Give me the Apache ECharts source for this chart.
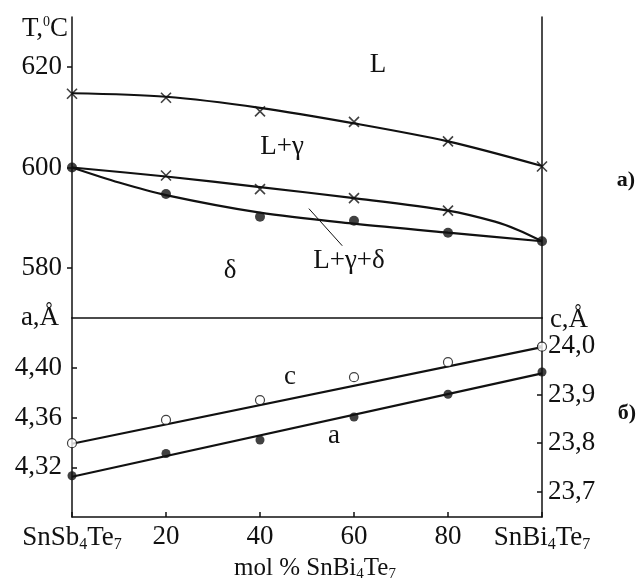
<!DOCTYPE html>
<html>
<head>
<meta charset="utf-8">
<script src="https://cdn.jsdelivr.net/npm/echarts@6/dist/echarts.min.js"></script>
<style>html,body{margin:0;background:#fff}#chart{width:640px;height:583px}</style>
</head>
<body>
<div id="chart"></div>
<script>
// x: mol % SnBi4Te7
const xPct = [0, 20, 40, 60, 80, 100]

// top panel, T (°C)
const liquidusCross = [614.7, 613.9, 611.2, 609.1, 605.2, 600.2]
const liquidusCurve = [614.8, 614.1, 611.9, 608.8, 605.2, 600.3]
const midCurveX = [0, 20, 40, 60, 80, 90, 95, 100]
const midCurve = [600, 598.2, 596.1, 593.9, 591.4, 589.2, 587.5, 585.3]
const midCrossX = [20, 40, 60, 80]
const midCross = [598.4, 595.7, 593.9, 591.4]
const solCurveX = [0, 10, 20, 40, 60, 80, 100]
const solCurve = [600, 597.0, 594.5, 591.0, 588.8, 587.0, 585.3]
const solDots = [600, 594.7, 590.2, 589.4, 587.0, 585.3]
const leaderX = [50.4, 57.5]
const leaderT = [591.8, 584.4]
const tTicks = [580, 600, 620]

// bottom panel, lattice parameters (Å)
const aDots = [4.3132, 4.3311, 4.3419, 4.3604, 4.3787, 4.3966]
const aLineX = [0, 100]
const aLine = [4.3124, 4.3955]
const cDots = [23.800, 23.848, 23.889, 23.936, 23.967, 23.999]
const cLine = [23.799, 23.998]
const aTicks = [4.32, 4.36, 4.40]
const cTicks = [23.7, 23.8, 23.9, 24.0]

const ink = '#111'
const serif = 'Liberation Serif'
const pairs = (xs, ys) => xs.map((x, i) => [x, ys[i]])
const cross = 'path://M0,0L10,10M10,0L0,10'

const chart = echarts.init(document.getElementById('chart'))

const lineS = (xi, yi, data, smooth, w) => ({
  type: 'line', xAxisIndex: xi, yAxisIndex: yi, data: data,
  smooth: smooth, showSymbol: false, silent: true,
  lineStyle: {color: ink, width: w || 2.2}, z: 2
})
const dotS = (xi, yi, data, opts) => Object.assign({
  type: 'scatter', xAxisIndex: xi, yAxisIndex: yi, data: data, silent: true, z: 3
}, opts)

const txt = (x, y, text, size, extra) => ({
  type: 'text', x: x, y: y, silent: true,
  style: Object.assign({
    text: text, fontFamily: serif, fontSize: size, fill: ink,
    align: 'center', verticalAlign: 'middle'
  }, extra || {})
})

let option = {
  animation: false,
  backgroundColor: '#fff',
  grid: [
    {left: 72, top: 17, width: 470, height: 301},
    {left: 72, top: 318, width: 470, height: 199}
  ],
  xAxis: [
    {
      type: 'value', gridIndex: 0, min: 0, max: 100,
      axisLine: {onZero: false, lineStyle: {color: ink, width: 1.5}},
      axisTick: {show: false}, axisLabel: {show: false}, splitLine: {show: false}
    },
    {
      type: 'value', gridIndex: 1, min: 0, max: 100, interval: 20,
      axisLine: {onZero: false, lineStyle: {color: ink, width: 1.5}},
      axisTick: {inside: true, length: 5, lineStyle: {color: ink, width: 1.5}},
      splitLine: {show: false},
      axisLabel: {
        margin: 6, color: ink, fontFamily: serif, fontSize: 27,
        formatter: v => v === 0 ? '{n|SnSb}{s|4}{n|Te}{s|7}' : v === 100 ? '{n|SnBi}{s|4}{n|Te}{s|7}' : String(v),
        rich: {
          n: {fontFamily: serif, fontSize: 27, color: ink, lineHeight: 30},
          s: {fontFamily: serif, fontSize: 16, color: ink, lineHeight: 16, verticalAlign: 'bottom'}
        }
      }
    }
  ],
  yAxis: [
    {
      type: 'value', gridIndex: 0, position: 'left', min: 570, max: 630,
      axisLine: {show: true, onZero: false, lineStyle: {color: ink, width: 1.5}},
      axisTick: {show: true, length: 5, customValues: tTicks, lineStyle: {color: ink, width: 1.5}},
      axisLabel: {customValues: tTicks, margin: 10, color: ink, fontFamily: serif, fontSize: 27},
      splitLine: {show: false}
    },
    {
      type: 'value', gridIndex: 0, position: 'right', min: 570, max: 630,
      axisLine: {show: true, onZero: false, lineStyle: {color: ink, width: 1.5}},
      axisTick: {show: false}, axisLabel: {show: false}, splitLine: {show: false}
    },
    {
      type: 'value', gridIndex: 1, position: 'left', min: 4.28, max: 4.44,
      axisLine: {show: true, onZero: false, lineStyle: {color: ink, width: 1.5}},
      axisTick: {show: true, inside: true, length: 5, customValues: aTicks, lineStyle: {color: ink, width: 1.5}},
      axisLabel: {
        customValues: aTicks, margin: 10, color: ink, fontFamily: serif, fontSize: 27,
        formatter: v => v.toFixed(2).replace('.', ',')
      },
      splitLine: {show: false}
    },
    {
      type: 'value', gridIndex: 1, position: 'right', min: 23.648, max: 24.058,
      axisLine: {show: true, onZero: false, lineStyle: {color: ink, width: 1.5}},
      axisTick: {show: true, inside: true, length: 5, customValues: cTicks, lineStyle: {color: ink, width: 1.5}},
      axisLabel: {
        customValues: cTicks, margin: 6, color: ink, fontFamily: serif, fontSize: 27,
        formatter: v => v.toFixed(1).replace('.', ',')
      },
      splitLine: {show: false}
    }
  ],
  series: [
    lineS(0, 0, pairs(xPct, liquidusCurve), 0.3),
    lineS(0, 0, pairs(midCurveX, midCurve), 0.3),
    lineS(0, 0, pairs(solCurveX, solCurve), 0.3),
    lineS(0, 0, pairs(leaderX, leaderT), false, 1),
    dotS(0, 0, pairs(xPct, liquidusCross), {
      symbol: cross, symbolSize: 10,
      itemStyle: {color: 'none', borderColor: ink, borderWidth: 1.6}
    }),
    dotS(0, 0, pairs(midCrossX, midCross), {
      symbol: cross, symbolSize: 10,
      itemStyle: {color: 'none', borderColor: ink, borderWidth: 1.6}
    }),
    dotS(0, 0, pairs(xPct, solDots), {
      symbol: 'circle', symbolSize: 10, itemStyle: {color: ink}
    }),
    lineS(1, 2, pairs(aLineX, aLine), false),
    lineS(1, 3, pairs(aLineX, cLine), false),
    dotS(1, 2, pairs(xPct, aDots), {
      symbol: 'circle', symbolSize: 9, itemStyle: {color: ink}
    }),
    dotS(1, 3, pairs(xPct, cDots), {
      symbol: 'circle', symbolSize: 9,
      itemStyle: {color: '#fff', borderColor: ink, borderWidth: 1.2}
    })
  ],
  graphic: [
    txt(45, 29, '{n|T,}{p|0}{n|C}', 27, {
      rich: {
        n: {fontFamily: serif, fontSize: 27, fill: ink, lineHeight: 28},
        p: {fontFamily: serif, fontSize: 14, fill: ink, lineHeight: 14, verticalAlign: 'top'}
      }
    }),
    txt(40, 318, 'a,Å', 27),
    txt(569, 320, 'c,Å', 27),
    txt(378, 65, 'L', 27),
    txt(282, 147, 'L+γ', 27),
    txt(230, 271, 'δ', 27),
    txt(349, 261, 'L+γ+δ', 27),
    txt(290, 377, 'c', 27),
    txt(334, 436, 'a', 27),
    txt(626, 180, 'а)', 22, {fontWeight: 'bold'}),
    txt(627, 413, 'б)', 22, {fontWeight: 'bold'}),
    txt(315, 568, '{n|mol % SnBi}{s|4}{n|Te}{s|7}', 25, {rich: {
      n: {fontFamily: serif, fontSize: 25, fill: ink, lineHeight: 28},
      s: {fontFamily: serif, fontSize: 15, fill: ink, lineHeight: 15, verticalAlign: 'bottom'}
    }})
  ]
}

chart.setOption(option)
</script>
</body>
</html>
